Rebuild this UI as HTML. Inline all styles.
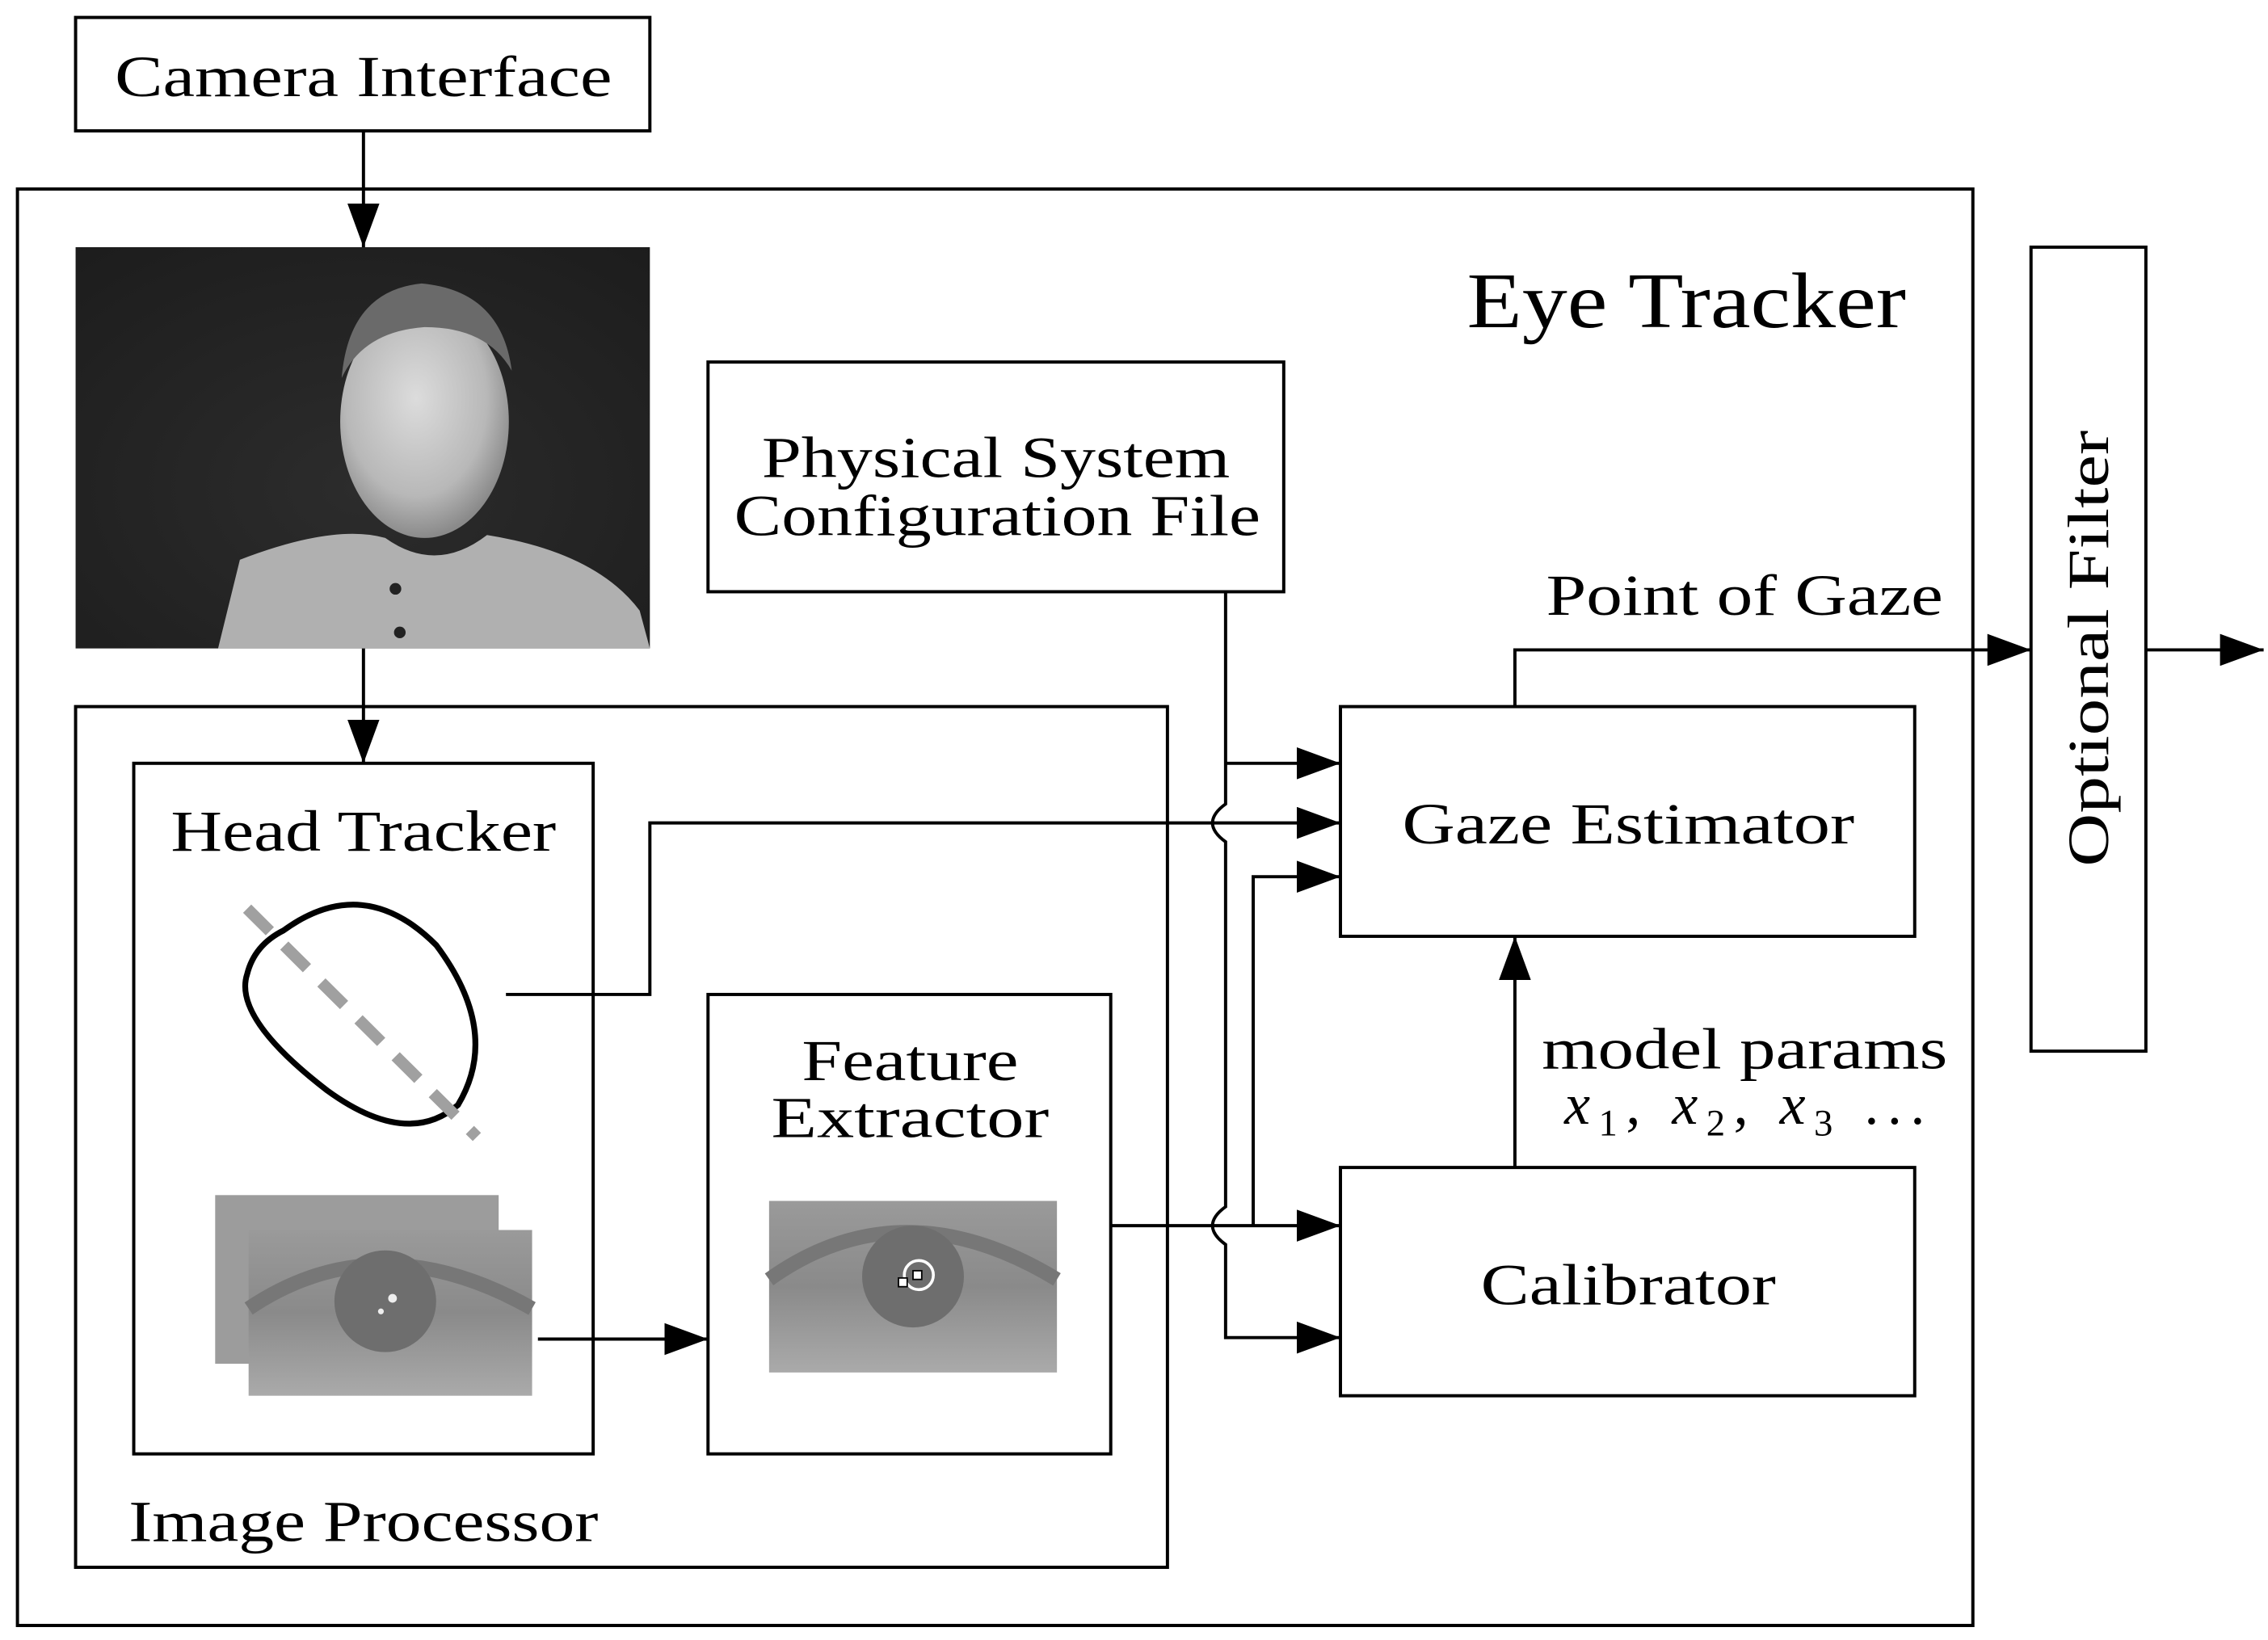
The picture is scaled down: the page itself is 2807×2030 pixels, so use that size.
<!DOCTYPE html>
<html><head><meta charset="utf-8"><style>
html,body{margin:0;padding:0;background:#fff;}
svg{display:block;}
text{font-family:"Liberation Serif",serif;fill:#000;}
</style></head><body>
<svg width="2807" height="2030" viewBox="0 0 1560 1128" preserveAspectRatio="none" xmlns="http://www.w3.org/2000/svg">
<defs>
<radialGradient id="face" cx="0.45" cy="0.4" r="0.6"><stop offset="0" stop-color="#dcdcdc"/><stop offset="0.7" stop-color="#b8b8b8"/><stop offset="1" stop-color="#8a8a8a"/></radialGradient>
<radialGradient id="bg" cx="0.5" cy="0.6" r="0.8"><stop offset="0" stop-color="#2c2c2c"/><stop offset="1" stop-color="#1c1c1c"/></radialGradient>
<linearGradient id="eyebg" x1="0" y1="0" x2="0" y2="1"><stop offset="0" stop-color="#9a9a9a"/><stop offset="0.5" stop-color="#8a8a8a"/><stop offset="1" stop-color="#aaaaaa"/></linearGradient>
<marker id="ah" viewBox="0 0 30 22" refX="30" refY="11" markerWidth="30" markerHeight="22" markerUnits="userSpaceOnUse" orient="auto"><path d="M0,0 L30,11 L0,22 Z" fill="#000"/></marker>
</defs>
<g fill="none" stroke="#000" stroke-width="2.2">
<rect x="52" y="12" width="395" height="78"/>
<rect x="12" y="130" width="1345" height="988"/>
<rect x="52" y="486" width="751" height="592"/>
<rect x="92" y="525" width="316" height="475"/>
<rect x="487" y="684" width="277" height="316"/>
<rect x="487" y="249" width="396" height="158"/>
<rect x="922" y="486" width="395" height="158"/>
<rect x="922" y="803" width="395" height="157"/>
<rect x="1397" y="170" width="79" height="553"/>
</g>
<!-- photo -->
<rect x="52" y="170" width="395" height="276" fill="url(#bg)"/>
<g>
<path d="M150,446 L165,385 Q230,360 265,370 Q300,395 335,368 Q410,380 440,420 L447,446 Z" fill="#b0b0b0"/>
<ellipse cx="292" cy="290" rx="58" ry="80" fill="url(#face)"/>
<path d="M235,260 Q240,200 290,195 Q345,200 352,255 Q335,225 292,225 Q250,228 235,260 Z" fill="#6a6a6a"/>
<circle cx="272" cy="405" r="4" fill="#222"/><circle cx="275" cy="435" r="4" fill="#222"/>
</g>
<!-- head tracker ellipse -->
<path d="M195,640 Q250,600 300,650 Q345,710 315,760 Q280,790 225,750 Q160,700 170,670 Q175,650 195,640 Z" fill="none" stroke="#000" stroke-width="4"/>
<line x1="170" y1="625" x2="328" y2="782" stroke="#a0a0a0" stroke-width="8" stroke-dasharray="22,14"/>
<!-- eye images -->
<rect x="148" y="822" width="195" height="116" fill="#9c9c9c"/>
<rect x="171" y="846" width="195" height="114" fill="url(#eyebg)"/>
<path d="M171,900 Q260,840 366,900" fill="none" stroke="#777" stroke-width="10"/>
<circle cx="265" cy="895" r="35" fill="#6e6e6e"/>
<circle cx="270" cy="893" r="3" fill="#eee"/><circle cx="262" cy="902" r="2" fill="#eee"/>
<rect x="529" y="826" width="198" height="118" fill="url(#eyebg)"/>
<path d="M529,880 Q620,815 727,880" fill="none" stroke="#777" stroke-width="10"/>
<circle cx="628" cy="878" r="35" fill="#6e6e6e"/>
<circle cx="632" cy="877" r="10" fill="none" stroke="#fff" stroke-width="2"/>
<rect x="618" y="879" width="6" height="6" fill="#fff" stroke="#000" stroke-width="1"/>
<rect x="628" y="874" width="6" height="6" fill="#fff" stroke="#000" stroke-width="1"/>
<!-- connectors -->
<g fill="none" stroke="#000" stroke-width="2.2">
<line x1="250" y1="90" x2="250" y2="170" marker-end="url(#ah)"/>
<line x1="250" y1="446" x2="250" y2="525" marker-end="url(#ah)"/>
<line x1="370" y1="921" x2="487" y2="921" marker-end="url(#ah)"/>
<path d="M348,684 H447 V566 H922" marker-end="url(#ah)"/>
<path d="M764,843 H922" marker-end="url(#ah)"/>
<path d="M862,843 V603 H922" marker-end="url(#ah)"/>
<path d="M843,407 V553 Q825,566 843,579 V830 Q825,843 843,856 V920 H922" marker-end="url(#ah)"/>
<path d="M843,525 H922" marker-end="url(#ah)"/>
<path d="M1042,486 V447 H1397" marker-end="url(#ah)"/>
<line x1="1476" y1="447" x2="1557" y2="447" marker-end="url(#ah)"/>
<line x1="1042" y1="803" x2="1042" y2="644" marker-end="url(#ah)"/>
</g>
<!-- text -->
<g font-size="40" text-anchor="middle" lengthAdjust="spacingAndGlyphs">
<text x="250" y="66" textLength="342" lengthAdjust="spacingAndGlyphs">Camera Interface</text>
<text x="1160" y="225" font-size="54" textLength="302" lengthAdjust="spacingAndGlyphs">Eye Tracker</text>
<text x="685" y="328" textLength="322" lengthAdjust="spacingAndGlyphs">Physical System</text>
<text x="686" y="368" textLength="362" lengthAdjust="spacingAndGlyphs">Configuration File</text>
<text x="1200" y="423" textLength="273" lengthAdjust="spacingAndGlyphs">Point of Gaze</text>
<text x="1120" y="580" textLength="311" lengthAdjust="spacingAndGlyphs">Gaze Estimator</text>
<text x="1120" y="897" textLength="203" lengthAdjust="spacingAndGlyphs">Calibrator</text>
<text x="250" y="585" textLength="265" lengthAdjust="spacingAndGlyphs">Head Tracker</text>
<text x="626" y="743" textLength="149" lengthAdjust="spacingAndGlyphs">Feature</text>
<text x="626" y="782" textLength="191" lengthAdjust="spacingAndGlyphs">Extractor</text>
<text x="250" y="1060" textLength="323" lengthAdjust="spacingAndGlyphs">Image Processor</text>
<text x="1200" y="735" textLength="279" lengthAdjust="spacingAndGlyphs">model params</text>
<text x="1200" y="773" font-style="italic" textLength="248" lengthAdjust="spacing">x<tspan font-size="26" font-style="normal" dy="8">1</tspan><tspan dy="-8" font-style="normal">, </tspan>x<tspan font-size="26" font-style="normal" dy="8">2</tspan><tspan dy="-8" font-style="normal">, </tspan>x<tspan font-size="26" font-style="normal" dy="8">3</tspan><tspan dy="-8" font-style="normal"> ...</tspan></text>
<text x="0" y="0" transform="translate(1450 446) rotate(-90)" textLength="300" lengthAdjust="spacingAndGlyphs">Optional Filter</text>
</g>
</svg>
</body></html>
